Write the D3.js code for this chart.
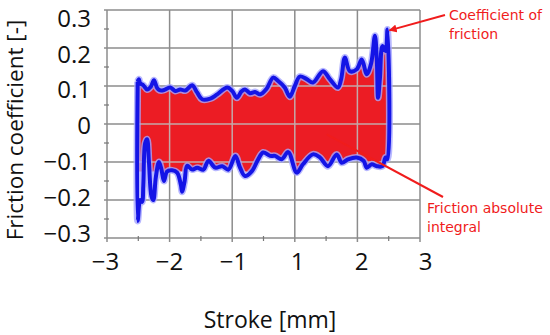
<!DOCTYPE html>
<html><head><meta charset="utf-8">
<script src="https://cdn.jsdelivr.net/npm/d3@7/dist/d3.min.js"></script>
<style>body{margin:0;background:#fff}svg{display:block}</style>
</head><body><svg id="c" width="550" height="335"></svg>
<script>
// ---- data ----
const upperStroke   = [-2.51,-2.49,-2.47,-2.42,-2.36,-2.30,-2.25,-2.20,-2.16,-2.10,-1.99,-1.91,-1.83,-1.75,-1.64,-1.56,-1.48,-1.35,-1.24,-1.08,-1.00,-0.85,-0.70,-0.59,-0.43,-0.27,-0.11,0.10,0.31,0.47,0.68,0.84,1.00,1.08,1.19,1.29,1.45,1.56,1.69,1.74,1.80,1.88,1.99,2.07,2.15,2.22,2.28,2.31,2.33,2.36,2.40,2.45,2.48];
const upperFriction = [0.112,0.118,0.107,0.102,0.091,0.098,0.115,0.095,0.089,0.089,0.096,0.087,0.091,0.088,0.102,0.083,0.065,0.067,0.078,0.096,0.087,0.069,0.086,0.091,0.081,0.084,0.078,0.093,0.122,0.113,0.096,0.072,0.100,0.125,0.118,0.109,0.139,0.118,0.096,0.118,0.175,0.139,0.144,0.170,0.131,0.160,0.232,0.170,0.069,0.120,0.205,0.192,0.249];
const lowerStroke   = [-2.51,-2.47,-2.44,-2.42,-2.39,-2.36,-2.33,-2.29,-2.26,-2.22,-2.17,-2.13,-2.09,-2.04,-1.96,-1.88,-1.82,-1.80,-1.76,-1.72,-1.64,-1.56,-1.46,-1.38,-1.27,-1.16,-1.06,-0.90,-0.75,-0.59,-0.37,-0.17,-0.01,0.21,0.37,0.58,0.79,1.03,1.13,1.29,1.40,1.53,1.67,1.75,1.85,1.99,2.10,2.15,2.23,2.31,2.40,2.45,2.48];
const lowerFriction = [-0.255,-0.200,-0.205,-0.160,-0.050,-0.040,-0.100,-0.190,-0.200,-0.140,-0.100,-0.120,-0.150,-0.125,-0.122,-0.128,-0.160,-0.178,-0.150,-0.110,-0.120,-0.115,-0.120,-0.097,-0.115,-0.111,-0.120,-0.084,-0.115,-0.137,-0.124,-0.093,-0.075,-0.084,-0.084,-0.093,-0.074,-0.128,-0.106,-0.080,-0.088,-0.111,-0.080,-0.102,-0.093,-0.088,-0.097,-0.115,-0.106,-0.111,-0.111,-0.088,-0.093];
const integralFloor = -0.125;
const xTickValues = [-3,-2,-1,1,2,3];
const xTickLabels = ["\u22123","\u22122","\u22121","1","2","3"];
const xMinorValues = [-2.5,-1.5,0,1.5,2.5];
const yTickValues = [-0.3,-0.2,-0.1,0,0.1,0.2,0.3];
const yTickLabels = ["\u22120.3","\u22120.2","\u22120.1","0","0.1","0.2","0.3"];
const yMinorValues = [-0.25,-0.15,-0.05,0.05,0.15,0.25];
const xTitle = "Stroke [mm]";
const yTitle = "Friction coefficient [-]";
const noteCof = ["Coefficient of","friction"];
const noteInt = ["Friction absolute","integral"];

// ---- layout ----
const L = 107, R = 420, T = 10, B = 238;
const step = (R - L) / 5;
const svg = d3.select("#c");
const x = d3.scaleLinear().domain([-3,-1,1,3]).range([L, L+2*step, L+3*step, L+5*step]);
const y = d3.scaleLinear().domain([-0.3,0.3]).range([B, T]);
// tick labels in the reference sit on a slightly different spacing than the grid
const lstep = 64, l0 = 105;
const xLab = d3.scaleLinear().domain([-3,-1,1,3]).range([l0, l0+2*lstep, l0+3*lstep, l0+5*lstep]);
const yLab = d3.scaleLinear().domain([-0.3,0.3]).range([233.5, 18.5]);

const upper = upperStroke.map((s,i)=>[s, upperFriction[i]]);
const lower = lowerStroke.map((s,i)=>[s, lowerFriction[i]]);
const loop = upper.concat(lower.slice().reverse(), [upper[0]]);
const redPoly = upper.concat(lower.slice().reverse().map(d=>[d[0], Math.max(d[1], integralFloor)]));

const line = d3.line().x(d=>x(d[0])).y(d=>y(d[1])).curve(d3.curveCatmullRom.alpha(0.5));

const gridColor = "#8c8c8c";
function drawGrid(g, color, w){
  g.append("g").selectAll("line").data(xTickValues).join("line")
    .attr("x1",d=>x(d)).attr("x2",d=>x(d)).attr("y1",T).attr("y2",B+4)
    .attr("stroke",color).attr("stroke-width",w);
  g.append("g").selectAll("line").data(yTickValues).join("line")
    .attr("x1",L-3).attr("x2",R).attr("y1",d=>y(d)).attr("y2",d=>y(d))
    .attr("stroke",color).attr("stroke-width",w);
}
drawGrid(svg.append("g"), gridColor, 1.5);

// minor ticks
svg.append("g").selectAll("line").data(xMinorValues).join("line")
  .attr("x1",d=>x(d)).attr("x2",d=>x(d)).attr("y1",B-2).attr("y2",B+3)
  .attr("stroke","#777").attr("stroke-width",1.2);
svg.append("g").selectAll("line").data(yMinorValues).join("line")
  .attr("x1",L-3).attr("x2",L+2).attr("y1",d=>y(d)).attr("y2",d=>y(d))
  .attr("stroke","#777").attr("stroke-width",1.2);

// red integral area
svg.append("defs").append("clipPath").attr("id","redclip").append("path").attr("d", line(redPoly)+"Z");
svg.append("path").attr("d", line(redPoly)+"Z").attr("fill","#ec1c24");
drawGrid(svg.append("g").attr("clip-path","url(#redclip)"), "#c4a9a9", 1.5);

// blue coefficient loop
svg.append("path").attr("d", line(loop)).attr("fill","none")
  .attr("stroke","#a6a6ff").attr("stroke-width",7).attr("stroke-linejoin","round").attr("opacity",0.8);
svg.append("path").attr("d", line(loop)).attr("fill","none")
  .attr("stroke","#1414e6").attr("stroke-width",4).attr("stroke-linejoin","round");

// axes (labels)
const font = "'Open Sans', sans-serif";
const yAxis = d3.axisLeft(yLab).tickValues(yTickValues).tickSize(0).tickPadding(16)
  .tickFormat((d,i)=>yTickLabels[i]);
const gy = svg.append("g").attr("transform",`translate(${L},0)`).call(yAxis);
gy.select(".domain").remove();
gy.selectAll("text").attr("font-family",font).attr("font-size",24).attr("fill","#111");

const xAxis = d3.axisBottom(xLab).tickValues(xTickValues).tickSize(0).tickPadding(15)
  .tickFormat((d,i)=>xTickLabels[i]);
const gx = svg.append("g").attr("transform",`translate(0,${B})`).call(xAxis);
gx.select(".domain").remove();
gx.selectAll("text").attr("font-family",font).attr("font-size",24).attr("fill","#111");

svg.append("text").attr("x",270).attr("y",328).attr("text-anchor","middle")
  .attr("font-family",font).attr("font-size",23).attr("fill","#111").text(xTitle);
svg.append("text").attr("transform","translate(23,130) rotate(-90)").attr("text-anchor","middle")
  .attr("font-family",font).attr("font-size",22.5).attr("fill","#111").text(yTitle);

// annotations
const red = "#f01c1c";
svg.append("defs").append("marker").attr("id","ah").attr("viewBox","0 0 10 10")
  .attr("refX",9).attr("refY",5).attr("markerWidth",4).attr("markerHeight",4).attr("orient","auto")
  .append("path").attr("d","M0,0L10,5L0,10Z").attr("fill",red);
const tip = upper[upper.length-1];
svg.append("line").attr("x1",445).attr("y1",15).attr("x2",x(tip[0])+2).attr("y2",y(tip[1])+1)
  .attr("stroke",red).attr("stroke-width",2).attr("marker-end","url(#ah)");
svg.append("line").attr("x1",443).attr("y1",197).attr("x2",x(1.51)).attr("y2",y(-0.027))
  .attr("stroke",red).attr("stroke-width",2);

const nfont = "'DejaVu Sans', sans-serif";
noteCof.forEach((t,i)=>svg.append("text").attr("x",449).attr("y",20+i*18.5)
  .attr("font-family",nfont).attr("font-size",14).attr("fill",red).text(t));
noteInt.forEach((t,i)=>svg.append("text").attr("x",427).attr("y",213+i*18.5)
  .attr("font-family",nfont).attr("font-size",14).attr("fill",red).text(t));
</script></body></html>
